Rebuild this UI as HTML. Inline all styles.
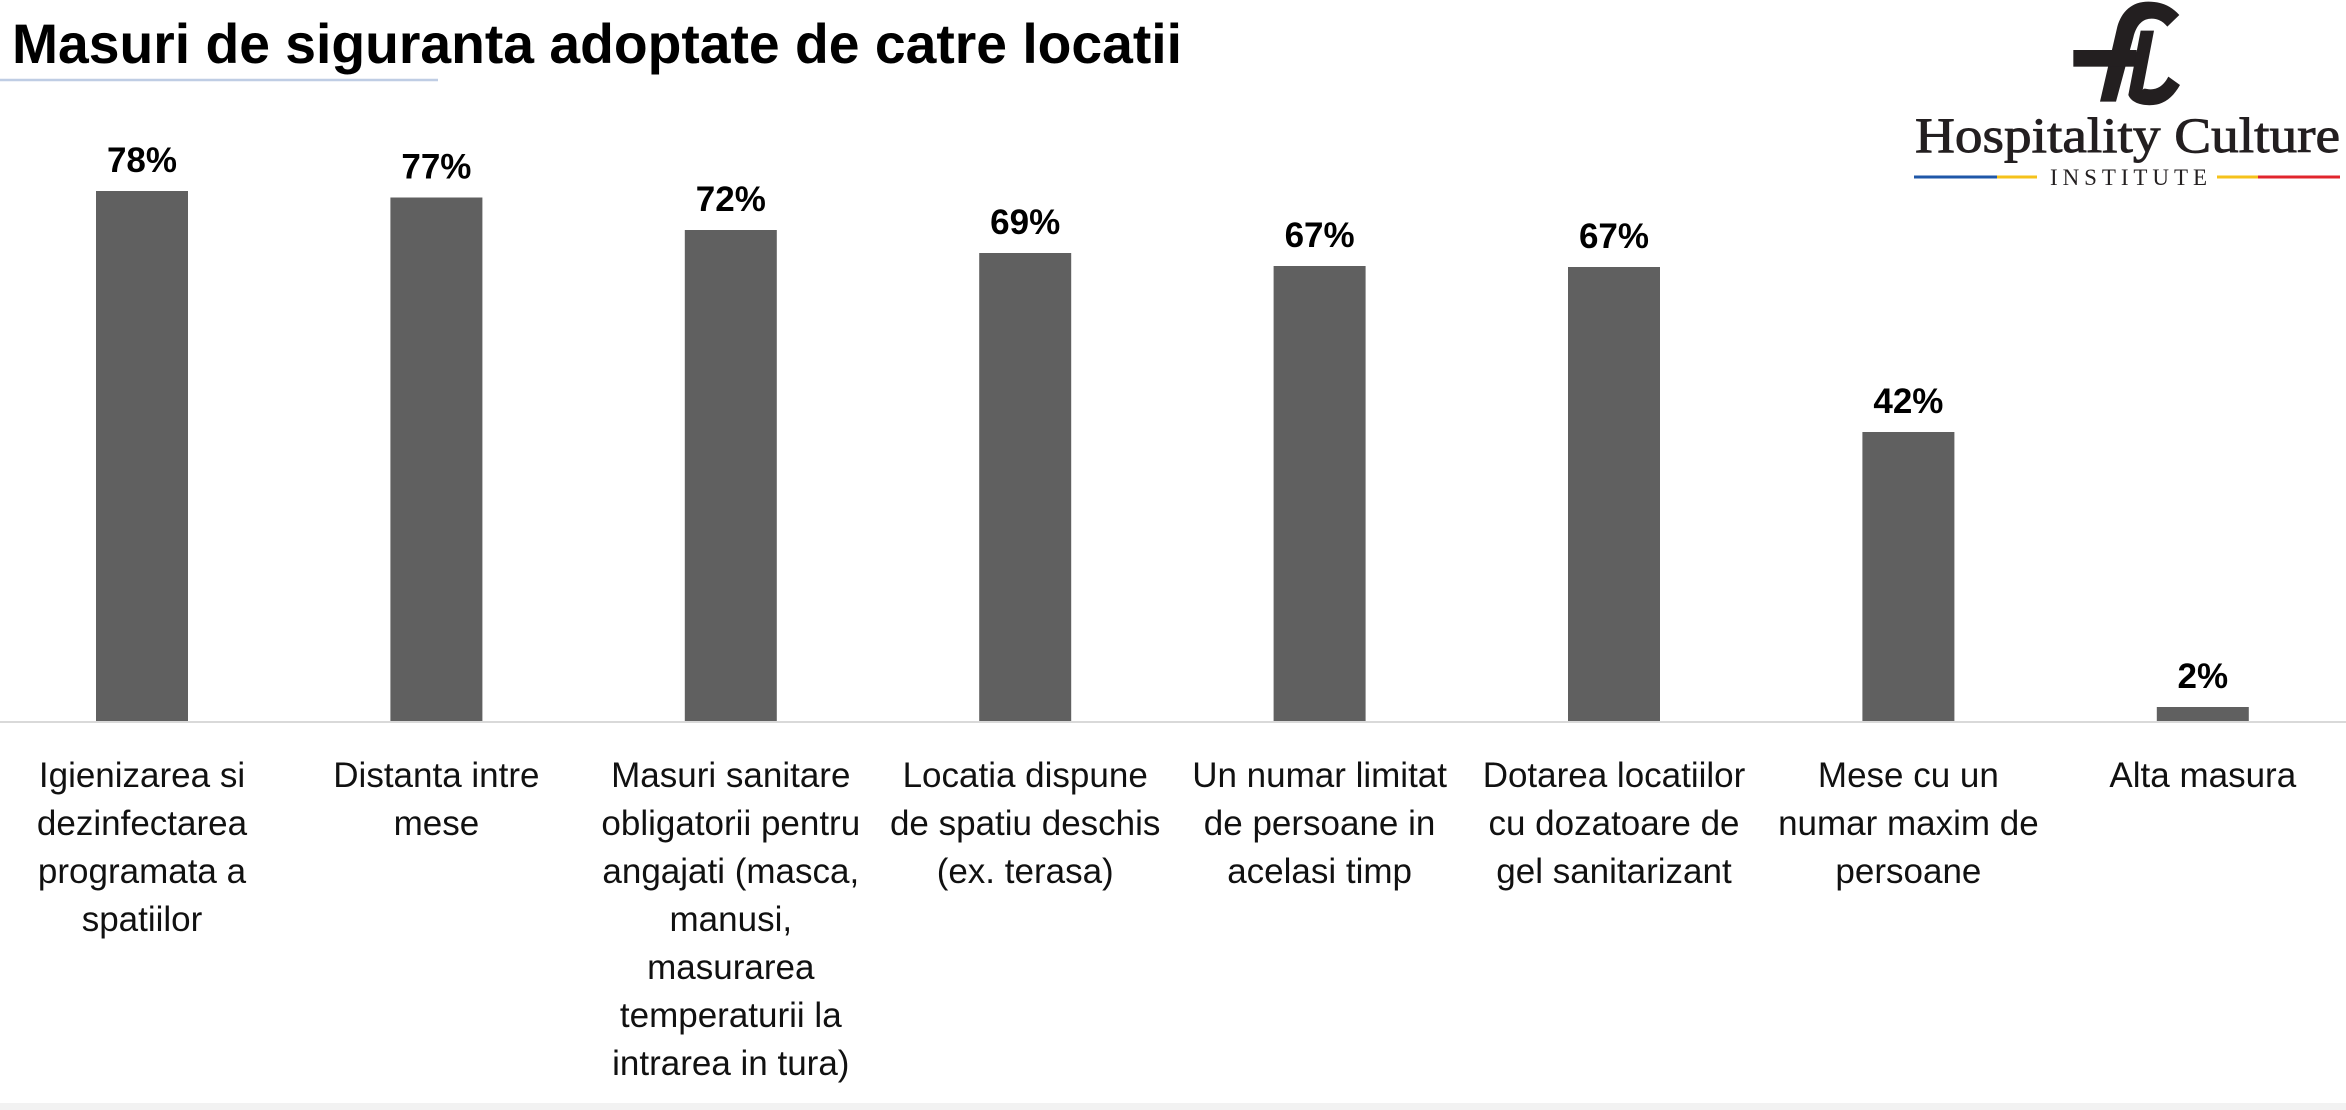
<!DOCTYPE html>
<html>
<head>
<meta charset="utf-8">
<style>
  html,body{margin:0;padding:0;background:#fff;}
  body{width:2346px;height:1110px;overflow:hidden;}
  svg{display:block;}
</style>
</head>
<body>
<svg width="2346" height="1110" viewBox="0 0 2346 1110" xmlns="http://www.w3.org/2000/svg">
  <rect x="0" y="0" width="2346" height="1110" fill="#ffffff"/>

  <!-- Title -->
  <text x="12" y="63" font-family="'Liberation Sans', sans-serif" font-weight="bold" font-size="56" fill="#000" textLength="1170" lengthAdjust="spacingAndGlyphs">Masuri de siguranta adoptate de catre locatii</text>
  <line x1="0" y1="80" x2="438" y2="80" stroke="#bfcde4" stroke-width="2.5"/>

  <!-- Logo monogram -->
  <g transform="translate(2060,0) scale(0.33333)" fill="#231f20">
    <path d="M358,45 C330,15 300,5 265,5 C215,5 185,35 172,80 L120,305 L168,305 L220,112 C230,72 250,56 275,56 C295,56 310,65 322,80 Z"/>
    <rect x="40" y="150" width="190" height="50"/>
    <path d="M242,92 L282,92 L248,270 C252,262 258,268 272,268 C295,268 312,255 325,230 L360,255 C340,290 315,312 280,315 C250,318 215,310 205,285 Z"/>
  </g>
  <text x="1915" y="152" font-family="'Liberation Serif', serif" font-size="50" fill="#231f20" stroke="#231f20" stroke-width="0.9" textLength="425" lengthAdjust="spacingAndGlyphs">Hospitality Culture</text>
  <line x1="1914" y1="177" x2="1997" y2="177" stroke="#1f57a8" stroke-width="3"/>
  <line x1="1997" y1="177" x2="2037" y2="177" stroke="#f5c21b" stroke-width="3"/>
  <text x="2050" y="185" font-family="'Liberation Serif', serif" font-size="23" fill="#231f20" textLength="157" lengthAdjust="spacing">INSTITUTE</text>
  <line x1="2217" y1="177" x2="2258" y2="177" stroke="#f5c21b" stroke-width="3"/>
  <line x1="2258" y1="177" x2="2340" y2="177" stroke="#e1252d" stroke-width="3"/>

  <!-- Bars -->
  <g fill="#606060">
    <rect x="96" y="191" width="92" height="531"/>
    <rect x="390.4" y="197.5" width="92" height="524.5"/>
    <rect x="684.8" y="230" width="92" height="492"/>
    <rect x="979.2" y="253" width="92" height="469"/>
    <rect x="1273.6" y="266" width="92" height="456"/>
    <rect x="1568" y="267" width="92" height="455"/>
    <rect x="1862.4" y="432" width="92" height="290"/>
    <rect x="2156.8" y="707" width="92" height="15"/>
  </g>

  <!-- Axis line -->
  <line x1="0" y1="722" x2="2346" y2="722" stroke="#d9d9d9" stroke-width="2"/>

  <!-- Value labels -->
  <g font-family="'Liberation Sans', sans-serif" font-weight="bold" font-size="35" fill="#000" text-anchor="middle">
    <text x="142" y="172">78%</text>
    <text x="436.4" y="178.5">77%</text>
    <text x="730.8" y="211">72%</text>
    <text x="1025.2" y="234">69%</text>
    <text x="1319.6" y="247">67%</text>
    <text x="1614" y="248">67%</text>
    <text x="1908.4" y="413">42%</text>
    <text x="2202.8" y="688">2%</text>
  </g>

  <!-- Category labels -->
  <g font-family="'Liberation Sans', sans-serif" font-size="35" fill="#111" text-anchor="middle">
    <text x="142" y="787">Igienizarea si</text>
    <text x="142" y="835">dezinfectarea</text>
    <text x="142" y="883">programata a</text>
    <text x="142" y="931">spatiilor</text>

    <text x="436.4" y="787">Distanta intre</text>
    <text x="436.4" y="835">mese</text>

    <text x="730.8" y="787">Masuri sanitare</text>
    <text x="730.8" y="835">obligatorii pentru</text>
    <text x="730.8" y="883">angajati (masca,</text>
    <text x="730.8" y="931">manusi,</text>
    <text x="730.8" y="979">masurarea</text>
    <text x="730.8" y="1027">temperaturii la</text>
    <text x="730.8" y="1075">intrarea in tura)</text>

    <text x="1025.2" y="787">Locatia dispune</text>
    <text x="1025.2" y="835">de spatiu deschis</text>
    <text x="1025.2" y="883">(ex. terasa)</text>

    <text x="1319.6" y="787">Un numar limitat</text>
    <text x="1319.6" y="835">de persoane in</text>
    <text x="1319.6" y="883">acelasi timp</text>

    <text x="1614" y="787">Dotarea locatiilor</text>
    <text x="1614" y="835">cu dozatoare de</text>
    <text x="1614" y="883">gel sanitarizant</text>

    <text x="1908.4" y="787">Mese cu un</text>
    <text x="1908.4" y="835">numar maxim de</text>
    <text x="1908.4" y="883">persoane</text>

    <text x="2202.8" y="787">Alta masura</text>
  </g>

  <!-- Bottom strip -->
  <rect x="0" y="1103" width="2346" height="7" fill="#f2f2f2"/>
</svg>
</body>
</html>
